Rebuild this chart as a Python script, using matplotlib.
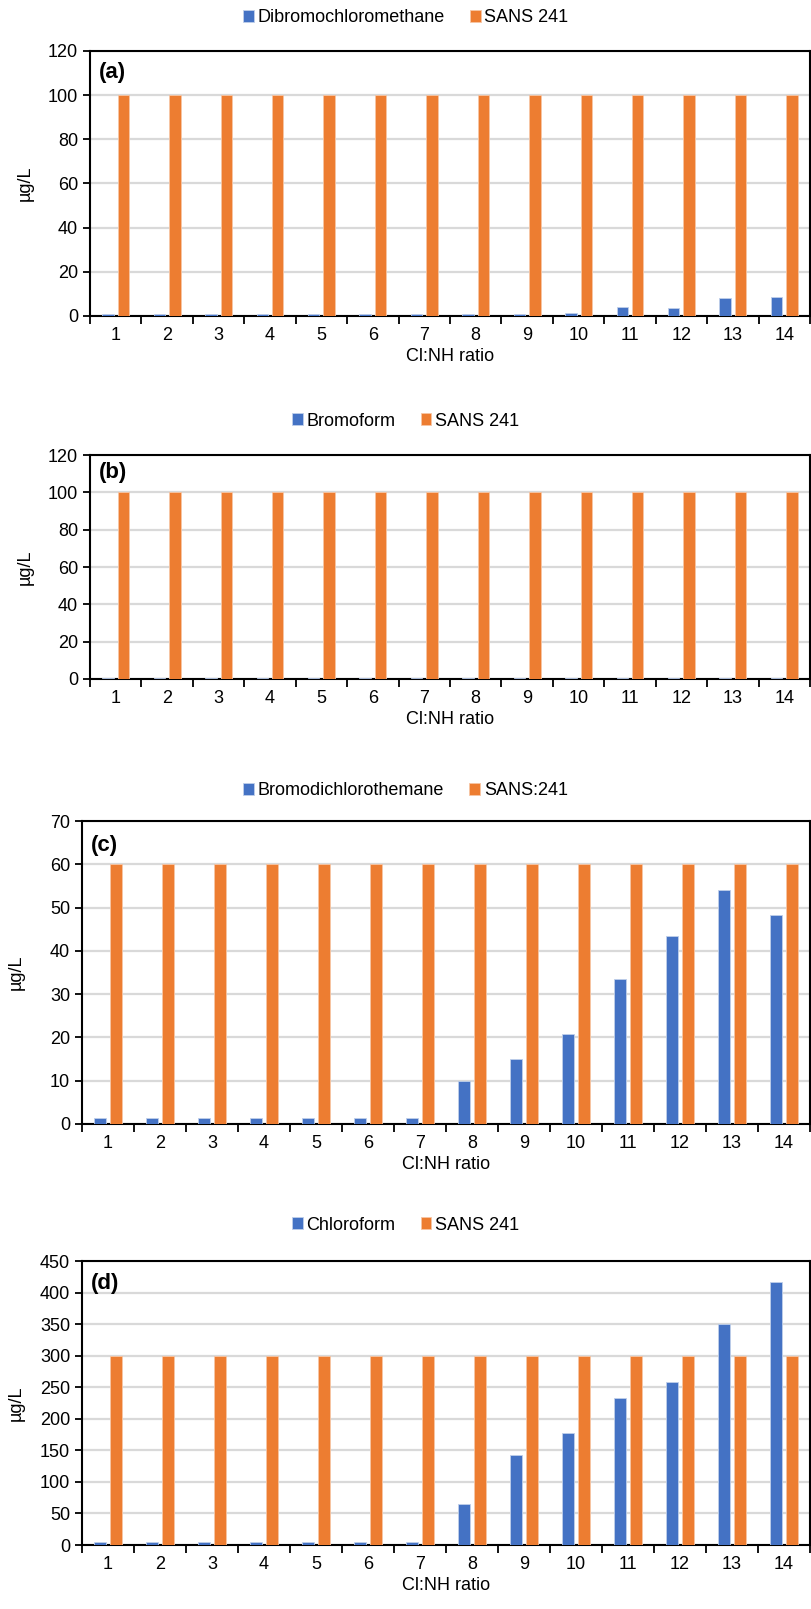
import numpy as np
import matplotlib.pyplot as plt

plt.rcParams['font.family'] = ['Liberation Sans', 'DejaVu Sans']

ratios = list(range(1, 14 + 1))

dbcm = [0.8, 0.8, 0.8, 0.8, 0.8, 0.8, 0.8, 0.8, 0.8, 1.5, 3.9, 3.4, 8.1, 8.6]
bromoform = [0.8] * 14
bdcm = [1.3, 1.3, 1.3, 1.3, 1.3, 1.3, 1.3, 10.0, 15.0, 20.9, 33.5, 43.5, 54.0, 48.3]
chloroform = [4.5, 4.5, 4.5, 4.5, 4.5, 4.5, 4.5, 65, 143, 178, 233, 258, 350, 416]

sans_a = [100] * 14
sans_b = [100] * 14
sans_c = [60] * 14
sans_d = [300] * 14

panels = [
    ("(a)", "Dibromochloromethane", "SANS 241", dbcm, sans_a, 120, 20),
    ("(b)", "Bromoform", "SANS 241", bromoform, sans_b, 120, 20),
    ("(c)", "Bromodichlorothemane", "SANS:241", bdcm, sans_c, 70, 10),
    ("(d)", "Chloroform", "SANS 241", chloroform, sans_d, 450, 50),
]

W, H = 811, 1609
# axes boxes in pixels: left, top, right, bottom
boxes = [
    (90, 51, 810, 316),
    (90, 455, 810, 679),
    (82, 821, 810, 1124),
    (82, 1261, 810, 1545),
]
legend_y = [18, 421, 791, 1225]

blue = "#4472C4"
orange = "#ED7D31"

fig = plt.figure(figsize=(W / 100, H / 100), dpi=100)

x = np.arange(len(ratios))
bw = 0.22
for (tag, name, ref, vals, lim, ymax, step), (l, t, r, b), ly in zip(panels, boxes, legend_y):
    ax = fig.add_axes([l / W, 1 - b / H, (r - l) / W, (b - t) / H])
    ax.bar(x - 0.15, vals, bw, color=blue, label=name, zorder=3,
           edgecolor="#BFCFEA", linewidth=0.6)
    ax.bar(x + 0.15, lim, bw, color=orange, label=ref, zorder=3,
           edgecolor="#F7C6A5", linewidth=0.6)

    ax.set_xlim(-0.5, len(ratios) - 0.5)
    ax.set_ylim(0, ymax)
    ax.set_yticks(np.arange(0, ymax + 1, step))
    ax.set_xticks(x)
    ax.set_xticklabels([str(v) for v in ratios])
    ax.set_xticks(np.arange(-0.5, len(ratios), 1), minor=True)
    ax.tick_params(axis='x', which='major', length=0, labelsize=13, pad=8)
    ax.tick_params(axis='x', which='minor', length=6, width=1.3, direction='out')
    ax.tick_params(axis='y', length=5, width=1.3, direction='out', labelsize=13)
    ax.grid(axis='y', color="#D9D9D9", linewidth=1.6, zorder=0)
    for s in ax.spines.values():
        s.set_linewidth(1.5)
        s.set_color("black")

    ax.set_xlabel("Cl:NH ratio", fontsize=13, labelpad=3)
    ax.set_ylabel("µg/L", fontsize=13)
    ax.yaxis.set_label_coords(-0.078, 0.5)
    ax.text(0.012, 0.92, tag, transform=ax.transAxes, fontsize=16,
            fontweight='bold', va='center', ha='left')

    ax.legend(loc='center', bbox_to_anchor=(0.5, 1 - ly / H),
              bbox_transform=fig.transFigure, ncol=2, frameon=False,
              fontsize=13, handlelength=0.6, handleheight=0.6,
              handletextpad=0.2, columnspacing=1.4)

plt.savefig("out.png", dpi=100)
